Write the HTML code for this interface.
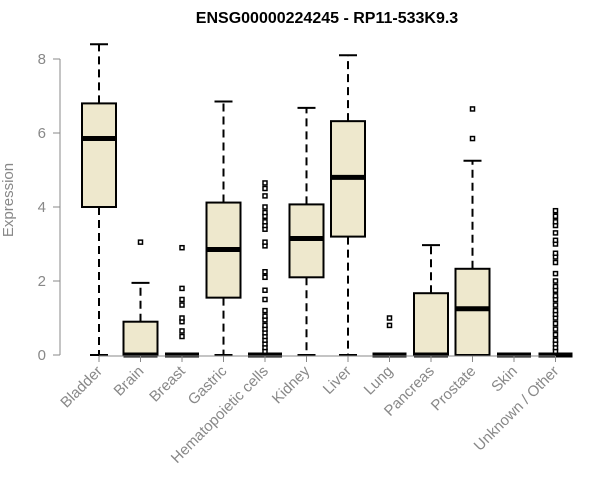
<!DOCTYPE html>
<html><head><meta charset="utf-8"><style>body{margin:0;background:#fff}svg{display:block;font-family:"Liberation Sans",sans-serif}</style></head>
<body>
<svg id="c" width="600" height="500">
<text x="327" y="23" text-anchor="middle" font-weight="bold" font-size="16">ENSG00000224245 - RP11-533K9.3</text>
<text transform="translate(13,200) rotate(-90)" text-anchor="middle" font-size="15" fill="#888">Expression</text>
</svg>
<script>
const categories=["Bladder","Brain","Breast","Gastric","Hematopoietic cells","Kidney","Liver","Lung","Pancreas","Prostate","Skin","Unknown / Other"];
const lowW=[0,0,0,0,0,0,0,0,0,0,0,0];
const q1=[4.0,0,0,1.55,0,2.1,3.2,0,0,0,0,0];
const med=[5.85,0,0,2.85,0,3.15,4.8,0,0,1.25,0,0];
const q3=[6.8,0.9,0,4.12,0,4.07,6.32,0,1.67,2.33,0,0];
const highW=[8.4,1.95,0,6.85,0,6.68,8.1,0,2.97,5.25,0,0];
const outliers=[[],[3.05],[0.5,0.65,0.9,1.0,1.35,1.5,1.8,2.9],[],
[0.1,0.2,0.3,0.4,0.5,0.6,0.7,0.8,0.95,1.05,1.2,1.5,1.75,2.1,2.25,2.95,3.05,3.4,3.5,3.6,3.75,3.85,4.0,4.3,4.5,4.65],
[],[],[0.8,1.0],[],[5.85,6.65],[],
[0.1,0.2,0.3,0.4,0.55,0.7,0.85,1.0,1.1,1.2,1.35,1.5,1.6,1.75,1.85,2.0,2.2,2.5,2.65,2.75,3.0,3.1,3.3,3.5,3.6,3.75,3.9]];
const yTicks=[0,2,4,6,8];
const svg=document.getElementById('c');const NS='http://www.w3.org/2000/svg';
const y=v=>355-37*v;const x=i=>99+41.5*i;
function mk(t,a,p){const e=document.createElementNS(NS,t);for(const k in a)e.setAttribute(k,a[k]);(p||svg).appendChild(e);return e;}
let ax=mk('line',{x1:60,x2:60,y1:y(0),y2:y(8),stroke:'#888'});


yTicks.forEach(t=>{const l=mk('line',{x1:53,x2:60,y1:y(t),y2:y(t),stroke:'#888'});


const tx=mk('text',{x:46,y:y(t)+5,'text-anchor':'end','font-size':15,fill:'#888'});tx.textContent=t;

});
categories.forEach((c,i)=>{const cx=x(i),w=17;
const g=mk('g',{});


if(highW[i]>q3[i])mk('line',{x1:cx,x2:cx,y1:y(q3[i]),y2:y(highW[i]),stroke:'#000','stroke-width':2,'stroke-dasharray':'8,5'},g);
if(q1[i]>lowW[i])mk('line',{x1:cx,x2:cx,y1:y(q1[i]),y2:y(lowW[i]),stroke:'#000','stroke-width':2,'stroke-dasharray':'8,5'},g);
mk('line',{x1:cx-9,x2:cx+9,y1:y(highW[i]),y2:y(highW[i]),stroke:'#000','stroke-width':2},g);
mk('line',{x1:cx-9,x2:cx+9,y1:y(lowW[i]),y2:y(lowW[i]),stroke:'#000','stroke-width':2},g);
if(q3[i]>q1[i])mk('rect',{x:cx-w,y:y(q3[i]),width:2*w,height:y(q1[i])-y(q3[i]),fill:'#EEE8CD',stroke:'#000','stroke-width':2},g);
mk('line',{x1:cx-w,x2:cx+w,y1:y(med[i]),y2:y(med[i]),stroke:'#000','stroke-width':5},g);
outliers[i].forEach(o=>{const p=mk('rect',{x:cx-2,y:y(o)-2,width:4,height:4,fill:'#fff',stroke:'#000','stroke-width':1.5},g);

});
const tk=mk('line',{x1:cx,x2:cx,y1:356,y2:362,stroke:'#888'});


const tx=mk('text',{transform:`translate(${cx+4},${372}) rotate(-45)`,'text-anchor':'end','font-size':15,fill:'#888'});tx.textContent=c;

});
const xa=mk('line',{x1:x(0),x2:x(11),y1:356,y2:356,stroke:'#888'});


</script>
</body></html>
